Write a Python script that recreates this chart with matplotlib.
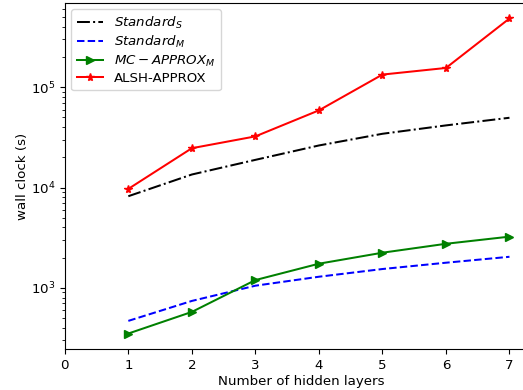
import matplotlib
matplotlib.use("Agg")
import matplotlib.pyplot as plt

layers = [1, 2, 3, 4, 5, 6, 7]
standard_s = [8200, 13500, 18900, 26300, 34400, 41700, 49700]
standard_m = [468, 740, 1050, 1290, 1540, 1780, 2040]
mc_approx_m = [350, 575, 1195, 1740, 2240, 2750, 3240]
alsh_approx = [9700, 24700, 32400, 58900, 134000, 156000, 486000]

plt.rcParams['font.size'] = 9.6
plt.rcParams['lines.linewidth'] = 1.45
plt.rcParams['lines.markersize'] = 5.8
plt.rcParams['xtick.major.size'] = 3.4
plt.rcParams['ytick.major.size'] = 3.4
plt.rcParams['ytick.minor.size'] = 1.9

fig = plt.figure(figsize=(5.23, 3.9), dpi=100)
ax = fig.add_axes([0.1239, 0.1044, 0.9061, 0.8886])

ax.plot(layers, standard_s, color='black', linestyle='-.', label=r'$Standard_S$')
ax.plot(layers, standard_m, color='blue', linestyle='--', label=r'$Standard_M$')
ax.plot(layers, mc_approx_m, color='green', marker='>', label=r'$MC-APPROX_M$')
ax.plot(layers, alsh_approx, color='red', marker='*', label='ALSH-APPROX')

ax.set_yscale('log')
ax.set_xlim(0, 7.46)
ax.set_xticks(range(0, 8))
ax.set_xlabel('Number of hidden layers', labelpad=2)
ax.set_ylabel('wall clock (s)', labelpad=1)
ax.legend(loc='upper left', labelspacing=0.25)

fig.savefig('out.png', dpi=100)
